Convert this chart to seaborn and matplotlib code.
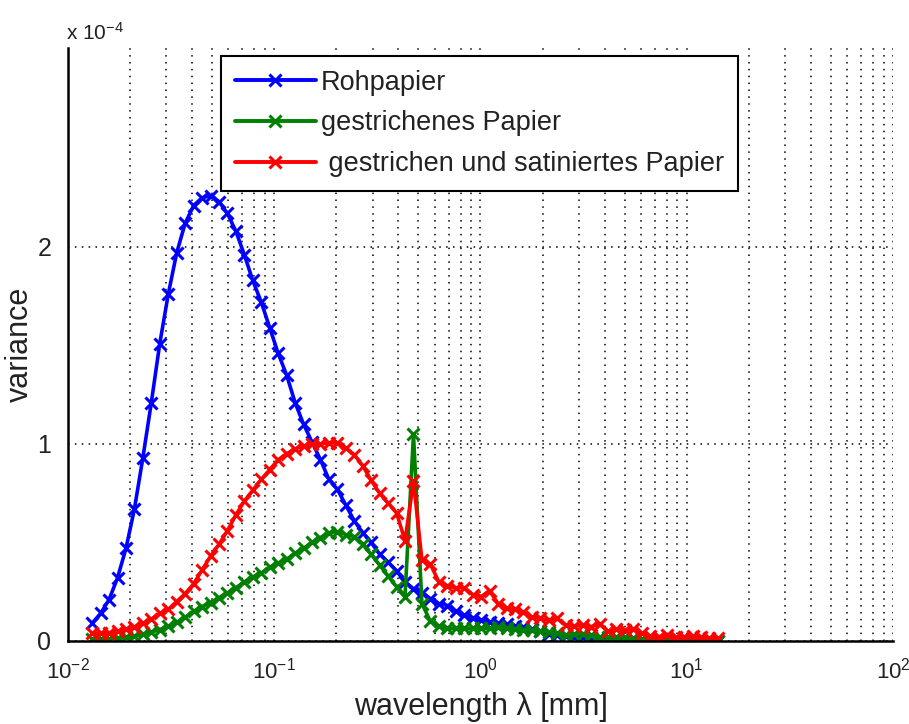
import matplotlib
matplotlib.use("Agg")
import matplotlib.pyplot as plt
import matplotlib.ticker as mticker
import numpy as np
import pandas as pd
import seaborn as sns

# Wavelength grid in mm (log-spaced sampling of the spectra)
wavelength = [
    0.01309, 0.01439, 0.01581, 0.01738, 0.01910, 0.02099, 0.02307, 0.02535,
    0.02786, 0.03062, 0.03365, 0.03698, 0.04064, 0.04467, 0.04909, 0.05395,
    0.05929, 0.06516, 0.07161, 0.07870, 0.08650, 0.09506, 0.1045, 0.1148,
    0.1262, 0.1387, 0.1524, 0.1675, 0.1841, 0.2023, 0.2223, 0.2443,
    0.2685, 0.2951, 0.3243, 0.3565, 0.3917, 0.4305, 0.4732, 0.5200,
    0.5715, 0.6281, 0.6902, 0.7586, 0.8337, 0.9162, 1.007, 1.107,
    1.216, 1.337, 1.469, 1.614, 1.774, 1.950, 2.143, 2.355,
    2.588, 2.844, 3.126, 3.436, 3.776, 4.150, 4.560, 5.012,
    5.508, 6.053, 6.653, 7.311, 8.035, 8.831, 9.705, 10.67,
    11.72, 12.88, 14.16,
]

# Variance in units of 1e-4
rohpapier = [
    0.09, 0.14, 0.21, 0.32, 0.47, 0.67, 0.93, 1.21,
    1.51, 1.76, 1.97, 2.12, 2.21, 2.25, 2.26, 2.23,
    2.17, 2.08, 1.96, 1.83, 1.72, 1.59, 1.46, 1.35,
    1.21, 1.10, 1.01, 0.92, 0.82, 0.77, 0.69, 0.61,
    0.55, 0.50, 0.44, 0.40, 0.355, 0.30, 0.265, 0.245,
    0.215, 0.19, 0.18, 0.15, 0.13, 0.115, 0.105, 0.098,
    0.092, 0.085, 0.078, 0.07, 0.062, 0.05, 0.035, 0.028,
    0.025, 0.02, 0.018, 0.015, 0.012, 0.012, 0.008, 0.006,
    0.005, 0.004, 0.004, 0.003, 0.003, 0.002, 0.002, 0.002,
    0.001, 0.001, 0.001,
]

gestrichen = [
    0.01, 0.01, 0.012, 0.013, 0.018, 0.023, 0.035, 0.045,
    0.058, 0.075, 0.095, 0.12, 0.15, 0.175, 0.195, 0.22,
    0.245, 0.27, 0.30, 0.325, 0.345, 0.375, 0.395, 0.415,
    0.445, 0.47, 0.50, 0.525, 0.55, 0.555, 0.54, 0.53,
    0.49, 0.44, 0.385, 0.33, 0.275, 0.225, 1.05, 0.19,
    0.10, 0.075, 0.066, 0.064, 0.064, 0.064, 0.064, 0.066,
    0.072, 0.065, 0.06, 0.056, 0.056, 0.05, 0.047, 0.04,
    0.032, 0.035, 0.038, 0.03, 0.022, 0.022, 0.02, 0.018,
    0.014, 0.01, 0.006, 0.005, 0.004, 0.004, 0.003, 0.003,
    0.002, 0.002, 0.002,
]

satiniert = [
    0.04, 0.04, 0.042, 0.05, 0.06, 0.072, 0.09, 0.11,
    0.14, 0.16, 0.20, 0.24, 0.29, 0.36, 0.43, 0.49,
    0.56, 0.64, 0.71, 0.765, 0.82, 0.87, 0.92, 0.95,
    0.975, 0.99, 1.0, 1.0, 1.005, 1.005, 0.98, 0.945,
    0.89, 0.815, 0.75, 0.70, 0.65, 0.51, 0.81, 0.41,
    0.39, 0.30, 0.28, 0.27, 0.27, 0.235, 0.225, 0.255,
    0.19, 0.165, 0.16, 0.145, 0.12, 0.115, 0.105, 0.115,
    0.08, 0.075, 0.08, 0.072, 0.085, 0.05, 0.062, 0.055,
    0.06, 0.04, 0.025, 0.022, 0.028, 0.02, 0.022, 0.025,
    0.018, 0.014, 0.014,
]

series_names = ["Rohpapier", "gestrichenes Papier", " gestrichen und satiniertes Papier"]
series_colors = ["#0000ff", "#008000", "#ff0000"]

x_ticks = [1e-2, 1e-1, 1e0, 1e1, 1e2]
x_tick_labels = ["$10^{-2}$", "$10^{-1}$", "$10^{0}$", "$10^{1}$", "$10^{2}$"]
y_ticks = [0, 1, 2]
y_tick_labels = ["0", "1", "2"]

df = pd.DataFrame({
    "wavelength": wavelength * 3,
    "variance": rohpapier + gestrichen + satiniert,
    "series": [series_names[0]] * len(wavelength)
    + [series_names[1]] * len(wavelength)
    + [series_names[2]] * len(wavelength),
})

sns.set_theme(style="white")
plt.rcParams["font.family"] = ["Liberation Sans", "DejaVu Sans"]
plt.rcParams["mathtext.default"] = "regular"

fig = plt.figure(figsize=(9.09, 7.24), dpi=100)
ax = fig.add_axes([68 / 909, 83 / 724, 825 / 909, 593 / 724])

sns.lineplot(
    data=df, x="wavelength", y="variance", hue="series",
    hue_order=series_names, palette=dict(zip(series_names, series_colors)),
    marker="x", markersize=8, markeredgewidth=2.2, linewidth=2.6,
    sort=False, errorbar=None, ax=ax, legend=False,
)
# x markers in the line colour, solid lines
for line in ax.lines:
    line.set_markeredgecolor(line.get_color())
    line.set_linestyle("-")

ax.set_xscale("log")
ax.set_xlim(1e-2, 1e2)
ax.set_ylim(0, 3.01)

ax.set_xticks(x_ticks)
ax.set_xticklabels(x_tick_labels)
ax.xaxis.set_minor_locator(mticker.LogLocator(base=10, subs=np.arange(2, 10), numticks=20))
ax.xaxis.set_minor_formatter(mticker.NullFormatter())
ax.set_yticks(y_ticks)
ax.set_yticklabels(y_tick_labels)

ax.tick_params(axis="both", which="major", direction="in", length=7, width=1.2,
               colors="black", labelcolor="#222222", labelsize=16, pad=10)
ax.tick_params(axis="y", which="major", labelsize=18, pad=12)
ax.tick_params(axis="x", which="minor", direction="in", length=5, width=1.0, colors="black")
ax.tick_params(axis="y", which="minor", left=False)
ax.tick_params(axis="x", which="major", pad=12)

dotted = (0, (1, 3.5))
ax.grid(True, which="major", axis="both", color="black", linestyle=dotted, linewidth=1.1)
ax.grid(True, which="minor", axis="x", color="black", linestyle=dotted, linewidth=1.1)

for side in ("top", "right"):
    ax.spines[side].set_visible(False)
for side in ("left", "bottom"):
    ax.spines[side].set_color("black")
    ax.spines[side].set_linewidth(1.8)

ax.set_xlabel("wavelength λ [mm]", fontsize=22, color="#222222", labelpad=6)
ax.set_ylabel("variance", fontsize=22, color="#222222", labelpad=2)

fig.text(66 / 909, 1 - 40 / 724, "x 10$^{-4}$", fontsize=15, color="#222222",
         ha="left", va="baseline")

handles = [
    plt.Line2D([], [], color=c, marker="x", markersize=8, markeredgewidth=2.2,
               markeredgecolor=c, linewidth=2.8)
    for c in series_colors
]
leg = ax.legend(
    handles, series_names,
    loc="upper left", bbox_to_anchor=((221 - 68) / 825, (641 - 56) / 593),
    borderaxespad=0, frameon=True, fancybox=False, framealpha=1,
    fontsize=19.5, handlelength=3.0, handletextpad=0.2, labelspacing=0.55,
    borderpad=0.5, edgecolor="black",
)
leg.get_frame().set_linewidth(1.5)
for t in leg.get_texts():
    t.set_color("#222222")

fig.savefig("out.png", dpi=100, facecolor="white")
